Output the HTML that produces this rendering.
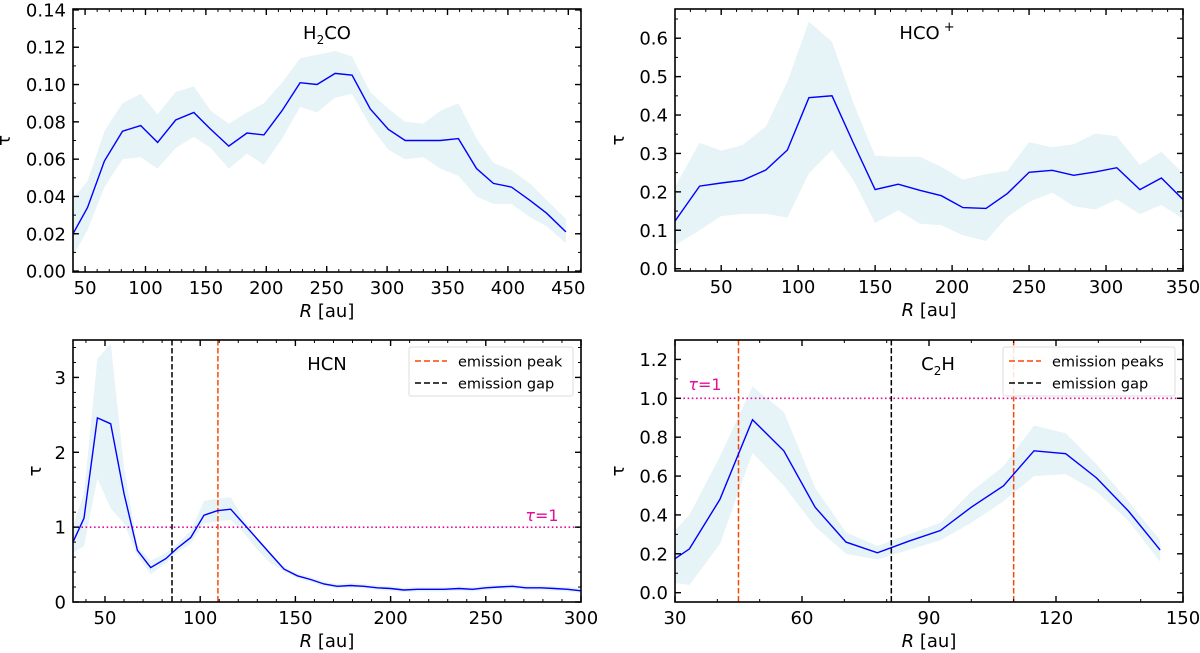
<!DOCTYPE html>
<html><head><meta charset="utf-8"><style>
html,body{margin:0;padding:0;background:#fff;}
svg{display:block;font-family:"DejaVu Sans","Liberation Sans",sans-serif;}
</style></head><body>
<svg id="fig" width="1200" height="653" viewBox="0 0 1200 653"></svg>
<script>
// ---- H2CO ----
const h2coR = [40,52,66,81,96,110,125,140,154,169,184,198,213,228,242,257,271,286,301,315,330,344,359,374,388,403,418,432,448];
const h2coTau = [0.020,0.034,0.059,0.075,0.078,0.069,0.081,0.085,0.076,0.067,0.074,0.073,0.086,0.101,0.100,0.106,0.105,0.087,0.076,0.070,0.070,0.070,0.071,0.055,0.047,0.045,0.038,0.031,0.021];
const h2coHi = [0.039,0.048,0.075,0.090,0.095,0.084,0.096,0.099,0.086,0.079,0.085,0.090,0.101,0.114,0.116,0.118,0.115,0.096,0.087,0.080,0.079,0.086,0.090,0.071,0.058,0.054,0.047,0.038,0.028];
const h2coLo = [0.008,0.022,0.045,0.060,0.061,0.055,0.066,0.072,0.066,0.055,0.063,0.057,0.071,0.088,0.085,0.093,0.095,0.078,0.065,0.060,0.061,0.055,0.051,0.040,0.036,0.036,0.029,0.024,0.015];
const h2coXTicks = [50,100,150,200,250,300,350,400,450];
const h2coYTicks = [0,0.02,0.04,0.06,0.08,0.10,0.12,0.14];
const h2coYLabels = ["0.00","0.02","0.04","0.06","0.08","0.10","0.12","0.14"];
// ---- HCO+ ----
const hcoR = [20,36,50,64,79,93,107,122,136,150,165,179,193,207,222,236,250,265,279,293,307,322,336,350];
const hcoTau = [0.124,0.215,0.223,0.230,0.257,0.309,0.445,0.450,0.326,0.206,0.220,0.204,0.190,0.159,0.157,0.196,0.251,0.256,0.243,0.252,0.263,0.206,0.236,0.180];
const hcoHi = [0.213,0.328,0.307,0.322,0.370,0.487,0.643,0.591,0.430,0.294,0.291,0.291,0.265,0.232,0.246,0.255,0.329,0.316,0.324,0.352,0.345,0.270,0.304,0.248];
const hcoLo = [0.061,0.100,0.137,0.143,0.143,0.133,0.248,0.309,0.230,0.119,0.152,0.117,0.113,0.087,0.072,0.135,0.174,0.198,0.163,0.154,0.181,0.142,0.166,0.130];
const hcoXTicks = [50,100,150,200,250,300,350];
const hcoYTicks = [0,0.1,0.2,0.3,0.4,0.5,0.6];
const hcoYLabels = ["0.0","0.1","0.2","0.3","0.4","0.5","0.6"];
// ---- HCN ----
const hcnR = [33,39,46,53,60,67,74,82,88,95,102,109,116,123,130,137,144,151,158,165,172,179,186,193,200,207,214,221,228,236,243,250,257,264,271,279,286,293,300];
const hcnTau = [0.79,1.12,2.46,2.38,1.45,0.69,0.46,0.58,0.72,0.86,1.16,1.22,1.24,1.04,0.84,0.64,0.44,0.35,0.30,0.24,0.21,0.22,0.21,0.19,0.18,0.16,0.17,0.17,0.17,0.18,0.17,0.19,0.20,0.21,0.19,0.19,0.18,0.17,0.15];
const hcnHi = [1.00,1.45,3.25,3.45,1.80,0.75,0.55,0.65,0.78,0.95,1.35,1.38,1.40,1.10,0.85,0.65,0.47,0.38,0.33,0.27,0.24,0.25,0.24,0.22,0.21,0.19,0.20,0.20,0.20,0.21,0.20,0.22,0.23,0.24,0.22,0.22,0.21,0.20,0.18];
const hcnLo = [0.65,0.75,1.65,1.25,1.05,0.62,0.37,0.52,0.66,0.78,1.05,1.08,1.10,0.92,0.70,0.52,0.41,0.32,0.27,0.21,0.18,0.19,0.18,0.16,0.15,0.13,0.14,0.14,0.14,0.15,0.14,0.16,0.17,0.18,0.16,0.16,0.15,0.14,0.12];
const hcnXTicks = [50,100,150,200,250,300];
const hcnYTicks = [0,1,2,3];
const hcnYLabels = ["0","1","2","3"];
const hcnPeaks = [109.3];
const hcnGaps = [85.2];
// ---- C2H ----
const c2hR = [30,33.4,40.6,48.3,55.7,63.1,70.4,77.8,85.2,92.7,100,107.6,114.8,122.3,129.6,137.1,144.6];
const c2hTau = [0.175,0.225,0.48,0.89,0.73,0.44,0.26,0.205,0.265,0.32,0.44,0.55,0.73,0.715,0.59,0.42,0.22];
const c2hHi = [0.32,0.40,0.70,1.06,0.93,0.54,0.31,0.24,0.30,0.36,0.52,0.65,0.86,0.82,0.66,0.47,0.27];
const c2hLo = [0.05,0.04,0.25,0.72,0.55,0.34,0.20,0.17,0.22,0.27,0.36,0.47,0.60,0.61,0.52,0.37,0.16];
const c2hXTicks = [30,60,90,120,150];
const c2hYTicks = [0,0.2,0.4,0.6,0.8,1.0,1.2];
const c2hYLabels = ["0.0","0.2","0.4","0.6","0.8","1.0","1.2"];
const c2hPeaks = [45,110];
const c2hGaps = [81.1];

const NS = "http://www.w3.org/2000/svg";
const svg = document.getElementById('fig');
function mk(tag, attrs, parent){ const e=document.createElementNS(NS,tag); for(const k in attrs) e.setAttribute(k,attrs[k]); (parent||svg).appendChild(e); return e; }

function panel(c){
  const g = mk('g',{});
  
  
  const sx = v => c.L + (v - c.xmin)/(c.xmax - c.xmin)*(c.R - c.L);
  const sy = v => c.B - (v - c.ymin)/(c.ymax - c.ymin)*(c.B - c.T);
  const clipId = 'clip-'+c.name;
  const cp = mk('clipPath',{id:clipId},g); mk('rect',{x:c.L,y:c.T,width:c.R-c.L,height:c.B-c.T},cp);
  const pg = mk('g',{'clip-path':'url(#'+clipId+')'},g);
  let d = c.x.map((v,i)=>(i?'L':'M')+sx(v).toFixed(1)+','+sy(c.hi[i]).toFixed(1)).join(' ');
  for(let i=c.x.length-1;i>=0;i--) d += ' L'+sx(c.x[i]).toFixed(1)+','+sy(c.lo[i]).toFixed(1);
  const band = mk('path',{d:d+' Z',fill:'#add8e6','fill-opacity':'0.3',stroke:'none'},pg);
  
  
  if(c.tauLine){
    const tl = mk('line',{x1:c.L,x2:c.R,y1:sy(1),y2:sy(1),stroke:'#e0109a','stroke-width':1.6,'stroke-dasharray':'1.6,2.6'},pg);
    
    
  }
  (c.gaps||[]).forEach(v=>{
    const l = mk('line',{x1:sx(v),x2:sx(v),y1:c.T,y2:c.B,stroke:'#000','stroke-width':1.5,'stroke-dasharray':'5.5,2.5'},pg);
    
    
  });
  (c.peaks||[]).forEach(v=>{
    const l = mk('line',{x1:sx(v),x2:sx(v),y1:c.T,y2:c.B,stroke:'#ff4500','stroke-width':1.5,'stroke-dasharray':'5.5,2.5'},pg);
    
    
  });
  const line = mk('polyline',{points:c.x.map((v,i)=>sx(v).toFixed(1)+','+sy(c.y[i]).toFixed(1)).join(' '),fill:'none',stroke:'#0000ff','stroke-width':1.4},pg);
  
  
  mk('rect',{x:c.L,y:c.T,width:c.R-c.L,height:c.B-c.T,fill:'none',stroke:'#000','stroke-width':1.6},g);
  for(let v=Math.ceil(c.xmin/c.xminor)*c.xminor; v<=c.xmax+1e-9; v+=c.xminor){
    const X=sx(v); if(X<c.L+0.5||X>c.R-0.5) continue;
    mk('line',{x1:X,x2:X,y1:c.B,y2:c.B-3,stroke:'#000','stroke-width':1},g);
    mk('line',{x1:X,x2:X,y1:c.T,y2:c.T+3,stroke:'#000','stroke-width':1},g);
  }
  for(let v=Math.ceil(c.ymin/c.yminor)*c.yminor; v<=c.ymax+1e-9; v+=c.yminor){
    const Y=sy(v); if(Y<c.T+0.5||Y>c.B-0.5) continue;
    mk('line',{x1:c.L,x2:c.L+3,y1:Y,y2:Y,stroke:'#000','stroke-width':1},g);
    mk('line',{x1:c.R,x2:c.R-3,y1:Y,y2:Y,stroke:'#000','stroke-width':1},g);
  }
  c.xt.forEach(v=>{
    const X=sx(v);
    mk('line',{x1:X,x2:X,y1:c.B,y2:c.B-6,stroke:'#000','stroke-width':1.4},g);
    mk('line',{x1:X,x2:X,y1:c.T,y2:c.T+6,stroke:'#000','stroke-width':1.4},g);
    const t=mk('text',{x:X,y:c.B+22,'font-size':18,'text-anchor':'middle',fill:'#000'},g); t.textContent=String(v);
    
    
  });
  c.yt.forEach((v,i)=>{
    const Y=sy(v);
    mk('line',{x1:c.L,x2:c.L+6,y1:Y,y2:Y,stroke:'#000','stroke-width':1.4},g);
    mk('line',{x1:c.R,x2:c.R-6,y1:Y,y2:Y,stroke:'#000','stroke-width':1.4},g);
    const t=mk('text',{x:c.L-7,y:Y+6.5,'font-size':18,'text-anchor':'end',fill:'#000'},g); t.textContent=c.yl[i];
    
    
  });
  const xt=mk('text',{x:(c.L+c.R)/2,y:c.B+45,'font-size':18,'text-anchor':'middle',fill:'#000'},g);
  xt.innerHTML='<tspan font-style="italic">R</tspan> [au]';
  
  
  const yt=mk('text',{x:0,y:0,'font-size':18,'text-anchor':'middle',fill:'#000',transform:'translate('+(c.yTitleX)+','+((c.T+c.B)/2)+') rotate(-90)'},g);
  yt.textContent='τ';
  
  
  const ti=mk('text',{x:c.titleX,y:c.T+30,'font-size':18,'text-anchor':'middle',fill:'#000'},g);
  ti.innerHTML=c.title;
  
  
  if(c.tauLabel){
    const tl=mk('text',{x:c.tauLabel[0],y:c.tauLabel[1],'font-size':16,'text-anchor':'middle',fill:'#e0109a'},g);
    tl.innerHTML='<tspan font-style="italic">τ</tspan>=1';
    
    
  }
  if(c.legend){
    const [lx,ly,lw,lh]=c.legend.box;
    const lg=mk('g',{},g);
    
    
    mk('rect',{x:lx,y:ly,width:lw,height:lh,fill:'#fff','fill-opacity':0.85,stroke:'#ddd','stroke-width':1,rx:2},lg);
    c.legend.items.forEach((it,i)=>{
      const yy=ly+14+i*22;
      const e=mk('g',{},lg);
      
      
      mk('line',{x1:lx+6,x2:lx+38,y1:yy,y2:yy,stroke:it[1],'stroke-width':1.5,'stroke-dasharray':'6,3'},e);
      const t=mk('text',{x:lx+49,y:yy+5.5,'font-size':14.5,fill:'#000'},e); t.textContent=it[0];
    });
  }
}

panel({name:'h2co-panel',L:73,R:581,T:9,B:272,xmin:40,xmax:460.5,ymin:-0.0005,ymax:0.1405,xminor:10,yminor:0.01,
  x:h2coR,y:h2coTau,hi:h2coHi,lo:h2coLo,xt:h2coXTicks,yt:h2coYTicks,yl:h2coYLabels,yTitleX:10,titleX:327,title:'H<tspan font-size="12" dy="5">2</tspan><tspan dy="-5">CO</tspan>'});
panel({name:'hco-plus-panel',L:675,R:1183,T:9,B:271,xmin:20,xmax:350,ymin:-0.006,ymax:0.676,xminor:10,yminor:0.05,
  x:hcoR,y:hcoTau,hi:hcoHi,lo:hcoLo,xt:hcoXTicks,yt:hcoYTicks,yl:hcoYLabels,yTitleX:624,titleX:927,title:'HCO<tspan font-size="13" dx="4" dy="-8">+</tspan>'});
panel({name:'hcn-panel',L:73,R:581,T:340,B:602,xmin:33.2,xmax:300,ymin:0,ymax:3.5,xminor:10,yminor:0.2,
  x:hcnR,y:hcnTau,hi:hcnHi,lo:hcnLo,xt:hcnXTicks,yt:hcnYTicks,yl:hcnYLabels,yTitleX:41,titleX:327,title:'HCN',
  tauLine:true,tauLabel:[542,521],gaps:hcnGaps,peaks:hcnPeaks,
  legend:{box:[409,347,164,49],items:[['emission peak','#ff4500'],['emission gap','#000']]}});
panel({name:'c2h-panel',L:675,R:1183,T:340,B:602,xmin:30,xmax:150,ymin:-0.048,ymax:1.3,xminor:10,yminor:0.1,
  x:c2hR,y:c2hTau,hi:c2hHi,lo:c2hLo,xt:c2hXTicks,yt:c2hYTicks,yl:c2hYLabels,yTitleX:624,titleX:938,title:'C<tspan font-size="12" dy="5">2</tspan><tspan dy="-5">H</tspan>',
  tauLine:true,tauLabel:[705,390],gaps:c2hGaps,peaks:c2hPeaks,
  legend:{box:[1003,347,172,49],items:[['emission peaks','#ff4500'],['emission gap','#000']]}});
</script>
</body></html>
